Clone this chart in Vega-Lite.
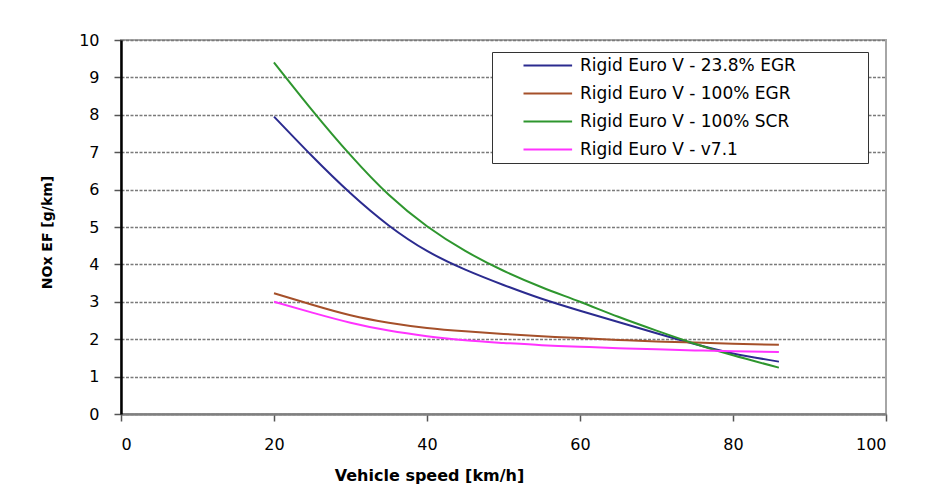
{
  "$schema": "https://vega.github.io/schema/vega-lite/v6.json",
  "autosize": {"type": "none"},
  "width": 765,
  "height": 374,
  "padding": {"left": 121, "top": 40, "right": 47, "bottom": 87},
  "background": "white",
  "config": {
    "font": "DejaVu Sans",
    "view": {"stroke": "#a6a6a6", "strokeWidth": 2},
    "axis": {
      "labelFont": "DejaVu Sans",
      "labelFontSize": 16,
      "labelColor": "#000000",
      "labelPadding": 15,
      "tickSize": 7,
      "tickWidth": 1.5,
      "tickColor": "#555555",
      "titleFont": "DejaVu Sans",
      "titleFontWeight": "bold",
      "titleColor": "#000000"
    }
  },
  "data": {
    "values": [
      {"speed": 20, "ef": 7.95, "series": "Rigid Euro V -  23.8% EGR"},
      {"speed": 25, "ef": 6.89, "series": "Rigid Euro V -  23.8% EGR"},
      {"speed": 30, "ef": 5.90, "series": "Rigid Euro V -  23.8% EGR"},
      {"speed": 35, "ef": 5.04, "series": "Rigid Euro V -  23.8% EGR"},
      {"speed": 40, "ef": 4.36, "series": "Rigid Euro V -  23.8% EGR"},
      {"speed": 45, "ef": 3.86, "series": "Rigid Euro V -  23.8% EGR"},
      {"speed": 50, "ef": 3.45, "series": "Rigid Euro V -  23.8% EGR"},
      {"speed": 55, "ef": 3.08, "series": "Rigid Euro V -  23.8% EGR"},
      {"speed": 60, "ef": 2.76, "series": "Rigid Euro V -  23.8% EGR"},
      {"speed": 65, "ef": 2.46, "series": "Rigid Euro V -  23.8% EGR"},
      {"speed": 70, "ef": 2.16, "series": "Rigid Euro V -  23.8% EGR"},
      {"speed": 75, "ef": 1.87, "series": "Rigid Euro V -  23.8% EGR"},
      {"speed": 80, "ef": 1.62, "series": "Rigid Euro V -  23.8% EGR"},
      {"speed": 86, "ef": 1.40, "series": "Rigid Euro V -  23.8% EGR"},
      {"speed": 20, "ef": 3.23, "series": "Rigid Euro V -  100% EGR"},
      {"speed": 25, "ef": 2.92, "series": "Rigid Euro V -  100% EGR"},
      {"speed": 30, "ef": 2.64, "series": "Rigid Euro V -  100% EGR"},
      {"speed": 35, "ef": 2.44, "series": "Rigid Euro V -  100% EGR"},
      {"speed": 40, "ef": 2.30, "series": "Rigid Euro V -  100% EGR"},
      {"speed": 45, "ef": 2.21, "series": "Rigid Euro V -  100% EGR"},
      {"speed": 50, "ef": 2.14, "series": "Rigid Euro V -  100% EGR"},
      {"speed": 55, "ef": 2.08, "series": "Rigid Euro V -  100% EGR"},
      {"speed": 60, "ef": 2.03, "series": "Rigid Euro V -  100% EGR"},
      {"speed": 65, "ef": 1.98, "series": "Rigid Euro V -  100% EGR"},
      {"speed": 70, "ef": 1.94, "series": "Rigid Euro V -  100% EGR"},
      {"speed": 75, "ef": 1.91, "series": "Rigid Euro V -  100% EGR"},
      {"speed": 80, "ef": 1.88, "series": "Rigid Euro V -  100% EGR"},
      {"speed": 86, "ef": 1.85, "series": "Rigid Euro V -  100% EGR"},
      {"speed": 20, "ef": 9.40, "series": "Rigid Euro V -  100% SCR"},
      {"speed": 25, "ef": 8.12, "series": "Rigid Euro V -  100% SCR"},
      {"speed": 30, "ef": 6.92, "series": "Rigid Euro V -  100% SCR"},
      {"speed": 35, "ef": 5.86, "series": "Rigid Euro V -  100% SCR"},
      {"speed": 40, "ef": 5.02, "series": "Rigid Euro V -  100% SCR"},
      {"speed": 45, "ef": 4.36, "series": "Rigid Euro V -  100% SCR"},
      {"speed": 50, "ef": 3.83, "series": "Rigid Euro V -  100% SCR"},
      {"speed": 55, "ef": 3.39, "series": "Rigid Euro V -  100% SCR"},
      {"speed": 60, "ef": 3.00, "series": "Rigid Euro V -  100% SCR"},
      {"speed": 65, "ef": 2.60, "series": "Rigid Euro V -  100% SCR"},
      {"speed": 70, "ef": 2.23, "series": "Rigid Euro V -  100% SCR"},
      {"speed": 75, "ef": 1.88, "series": "Rigid Euro V -  100% SCR"},
      {"speed": 80, "ef": 1.57, "series": "Rigid Euro V -  100% SCR"},
      {"speed": 86, "ef": 1.24, "series": "Rigid Euro V -  100% SCR"},
      {"speed": 20, "ef": 3.00, "series": "Rigid Euro V -  v7.1"},
      {"speed": 25, "ef": 2.71, "series": "Rigid Euro V -  v7.1"},
      {"speed": 30, "ef": 2.44, "series": "Rigid Euro V -  v7.1"},
      {"speed": 35, "ef": 2.23, "series": "Rigid Euro V -  v7.1"},
      {"speed": 40, "ef": 2.08, "series": "Rigid Euro V -  v7.1"},
      {"speed": 45, "ef": 1.97, "series": "Rigid Euro V -  v7.1"},
      {"speed": 50, "ef": 1.90, "series": "Rigid Euro V -  v7.1"},
      {"speed": 55, "ef": 1.84, "series": "Rigid Euro V -  v7.1"},
      {"speed": 60, "ef": 1.80, "series": "Rigid Euro V -  v7.1"},
      {"speed": 65, "ef": 1.76, "series": "Rigid Euro V -  v7.1"},
      {"speed": 70, "ef": 1.73, "series": "Rigid Euro V -  v7.1"},
      {"speed": 75, "ef": 1.70, "series": "Rigid Euro V -  v7.1"},
      {"speed": 80, "ef": 1.68, "series": "Rigid Euro V -  v7.1"},
      {"speed": 86, "ef": 1.66, "series": "Rigid Euro V -  v7.1"}
    ]
  },
  "mark": {"type": "line", "interpolate": "natural", "strokeWidth": 2},
  "encoding": {
    "x": {
      "field": "speed",
      "type": "quantitative",
      "scale": {"domain": [0, 100], "nice": false},
      "axis": {
        "title": "Vehicle speed [km/h]",
        "titleFontSize": 16,
        "titleX": 308,
        "titleY": 66,
        "titleBaseline": "alphabetic",
        "values": [0, 20, 40, 60, 80, 100],
        "grid": false,
        "domainColor": "#808080",
        "domainWidth": 2.5
      }
    },
    "y": {
      "field": "ef",
      "type": "quantitative",
      "scale": {"domain": [0, 10], "nice": false},
      "axis": {
        "title": "NOx EF [g/km]",
        "titleFontSize": 14,
        "titleX": -70,
        "titleY": 192,
        "titleBaseline": "alphabetic",
        "values": [0, 1, 2, 3, 4, 5, 6, 7, 8, 9, 10],
        "grid": true,
        "gridColor": "#7a7a7a",
        "gridDash": [3, 1.5],
        "gridWidth": 1.5,
        "domainColor": "#000000",
        "domainWidth": 2.5
      }
    },
    "color": {
      "field": "series",
      "type": "nominal",
      "sort": null,
      "scale": {
        "domain": ["Rigid Euro V -  23.8% EGR", "Rigid Euro V -  100% EGR", "Rigid Euro V -  100% SCR", "Rigid Euro V -  v7.1"],
        "range": ["#2b2b8f", "#a5502a", "#2e962e", "#ff33ff"]
      },
      "legend": {
        "title": " ",
        "titleOrient": "right",
        "titlePadding": 62,
        "orient": "none",
        "legendX": 371,
        "legendY": 12,
        "padding": 5,
        "fillColor": "white",
        "strokeColor": "#333333",
        "symbolType": "M3,0H11.1",
        "symbolSize": 144,
        "symbolStrokeWidth": 2,
        "labelFont": "DejaVu Sans",
        "labelFontSize": 17,
        "labelColor": "#000000",
        "labelOffset": 66,
        "labelLimit": 400,
        "rowPadding": 10
      }
    }
  }
}
